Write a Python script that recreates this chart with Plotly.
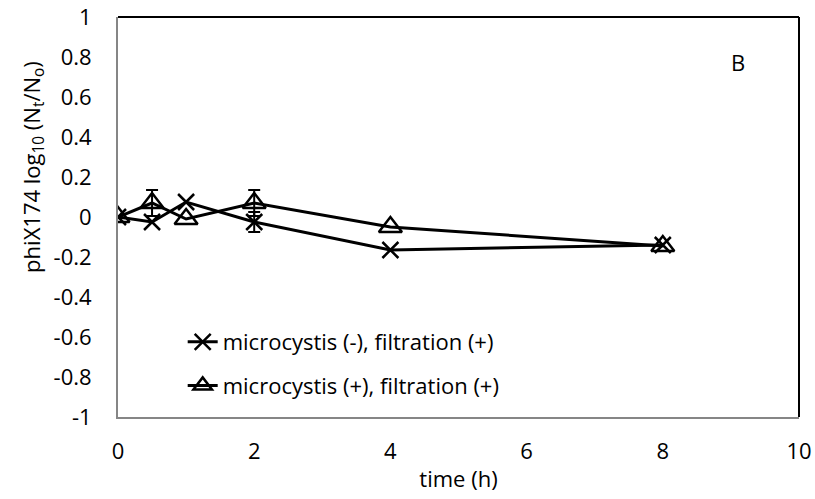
import plotly.graph_objects as go

# Sampling times (h)
time_h = [0, 0.5, 1, 2, 4, 8]

# log10(Nt/No) for phiX174
mc_minus = [0.0, -0.025, 0.075, -0.025, -0.165, -0.14]
mc_minus_err = [0, 0, 0, 0.05, 0, 0]
mc_plus = [0.0, 0.07, -0.01, 0.07, -0.05, -0.145]
mc_plus_err = [0, 0.065, 0, 0.065, 0, 0]

name_minus = "microcystis (-), filtration (+)"
name_plus = "microcystis (+), filtration (+)"

FONT = "'Open Sans', 'Liberation Sans', Arial, sans-serif"
FS = 22
BLACK = "#000000"
AXIS_GREY = "#868686"

fig = go.Figure()


def add_errors(xs, ys, errs):
    # only points that carry a standard deviation get an error bar
    idx = [i for i, e in enumerate(errs) if e > 0]
    fig.add_trace(go.Scatter(
        x=[xs[i] for i in idx], y=[ys[i] for i in idx],
        mode="markers", marker=dict(size=1, color="rgba(0,0,0,0)"),
        error_y=dict(type="data", array=[errs[i] for i in idx],
                     color=BLACK, thickness=2, width=6),
        showlegend=False, hoverinfo="skip",
    ))


add_errors(time_h, mc_minus, mc_minus_err)
add_errors(time_h, mc_plus, mc_plus_err)

fig.add_trace(go.Scatter(
    x=time_h, y=mc_minus, name=name_minus, legendgroup="a",
    mode="lines+markers",
    line=dict(color=BLACK, width=3),
    marker=dict(symbol="x-thin-open", size=16,
                line=dict(color=BLACK, width=2.5)),
))
fig.add_trace(go.Scatter(
    x=time_h, y=mc_plus, name=name_plus, legendgroup="b",
    mode="lines+markers",
    line=dict(color=BLACK, width=3),
    marker=dict(symbol="triangle-up-open", size=20, color=BLACK,
                line=dict(color=BLACK, width=2.5)),
))

# black frame along the top and right of the plot area
fig.add_shape(type="line", xref="paper", yref="paper", x0=0, x1=1, y0=1, y1=1,
              line=dict(color=BLACK, width=2))
fig.add_shape(type="line", xref="paper", yref="paper", x0=1, x1=1, y0=0, y1=1,
              line=dict(color=BLACK, width=2))

# panel letter
fig.add_annotation(x=9.1, y=0.775, xref="x", yref="y", text="B",
                   showarrow=False, font=dict(size=FS, color=BLACK, family=FONT))

# y-axis title, set a little above the vertical centre of the axis
fig.add_annotation(
    x=-0.125, y=0.625, xref="paper", yref="paper", showarrow=False,
    xanchor="center", yanchor="middle",
    text="phiX174 log<sub>10</sub> (N<sub>t</sub>/N<sub>o</sub>)",
    textangle=-90, font=dict(size=FS, color=BLACK, family=FONT),
)

fig.update_layout(
    width=815, height=499,
    margin=dict(l=118, r=16, t=17, b=82, autoexpand=False),
    paper_bgcolor="white", plot_bgcolor="white",
    font=dict(family=FONT, size=FS, color=BLACK),
    showlegend=True,
    legend=dict(
        x=0.095, y=0.24, xanchor="left", yanchor="top",
        bgcolor="rgba(0,0,0,0)", borderwidth=0,
        tracegroupgap=12, traceorder="grouped",
        font=dict(size=FS, family=FONT, color=BLACK),
    ),
    xaxis=dict(
        range=[0, 10], tickvals=[0, 2, 4, 6, 8, 10],
        showgrid=False, zeroline=False, automargin=False,
        showline=True, linecolor=AXIS_GREY, linewidth=2,
        ticks="", ticklabelstandoff=14,
        title=dict(text="time (h)", font=dict(size=FS, family=FONT), standoff=7),
        tickfont=dict(size=FS, family=FONT),
    ),
    yaxis=dict(
        range=[-1, 1], tickvals=[-1, -0.8, -0.6, -0.4, -0.2, 0, 0.2, 0.4, 0.6, 0.8, 1],
        ticktext=["-1", "-0.8", "-0.6", "-0.4", "-0.2", "0", "0.2", "0.4", "0.6", "0.8", "1"],
        showgrid=False, zeroline=False, automargin=False,
        showline=True, linecolor=AXIS_GREY, linewidth=2,
        ticks="", ticklabelstandoff=20,
        tickfont=dict(size=FS, family=FONT),
    ),
)

fig.write_html("out.html")
